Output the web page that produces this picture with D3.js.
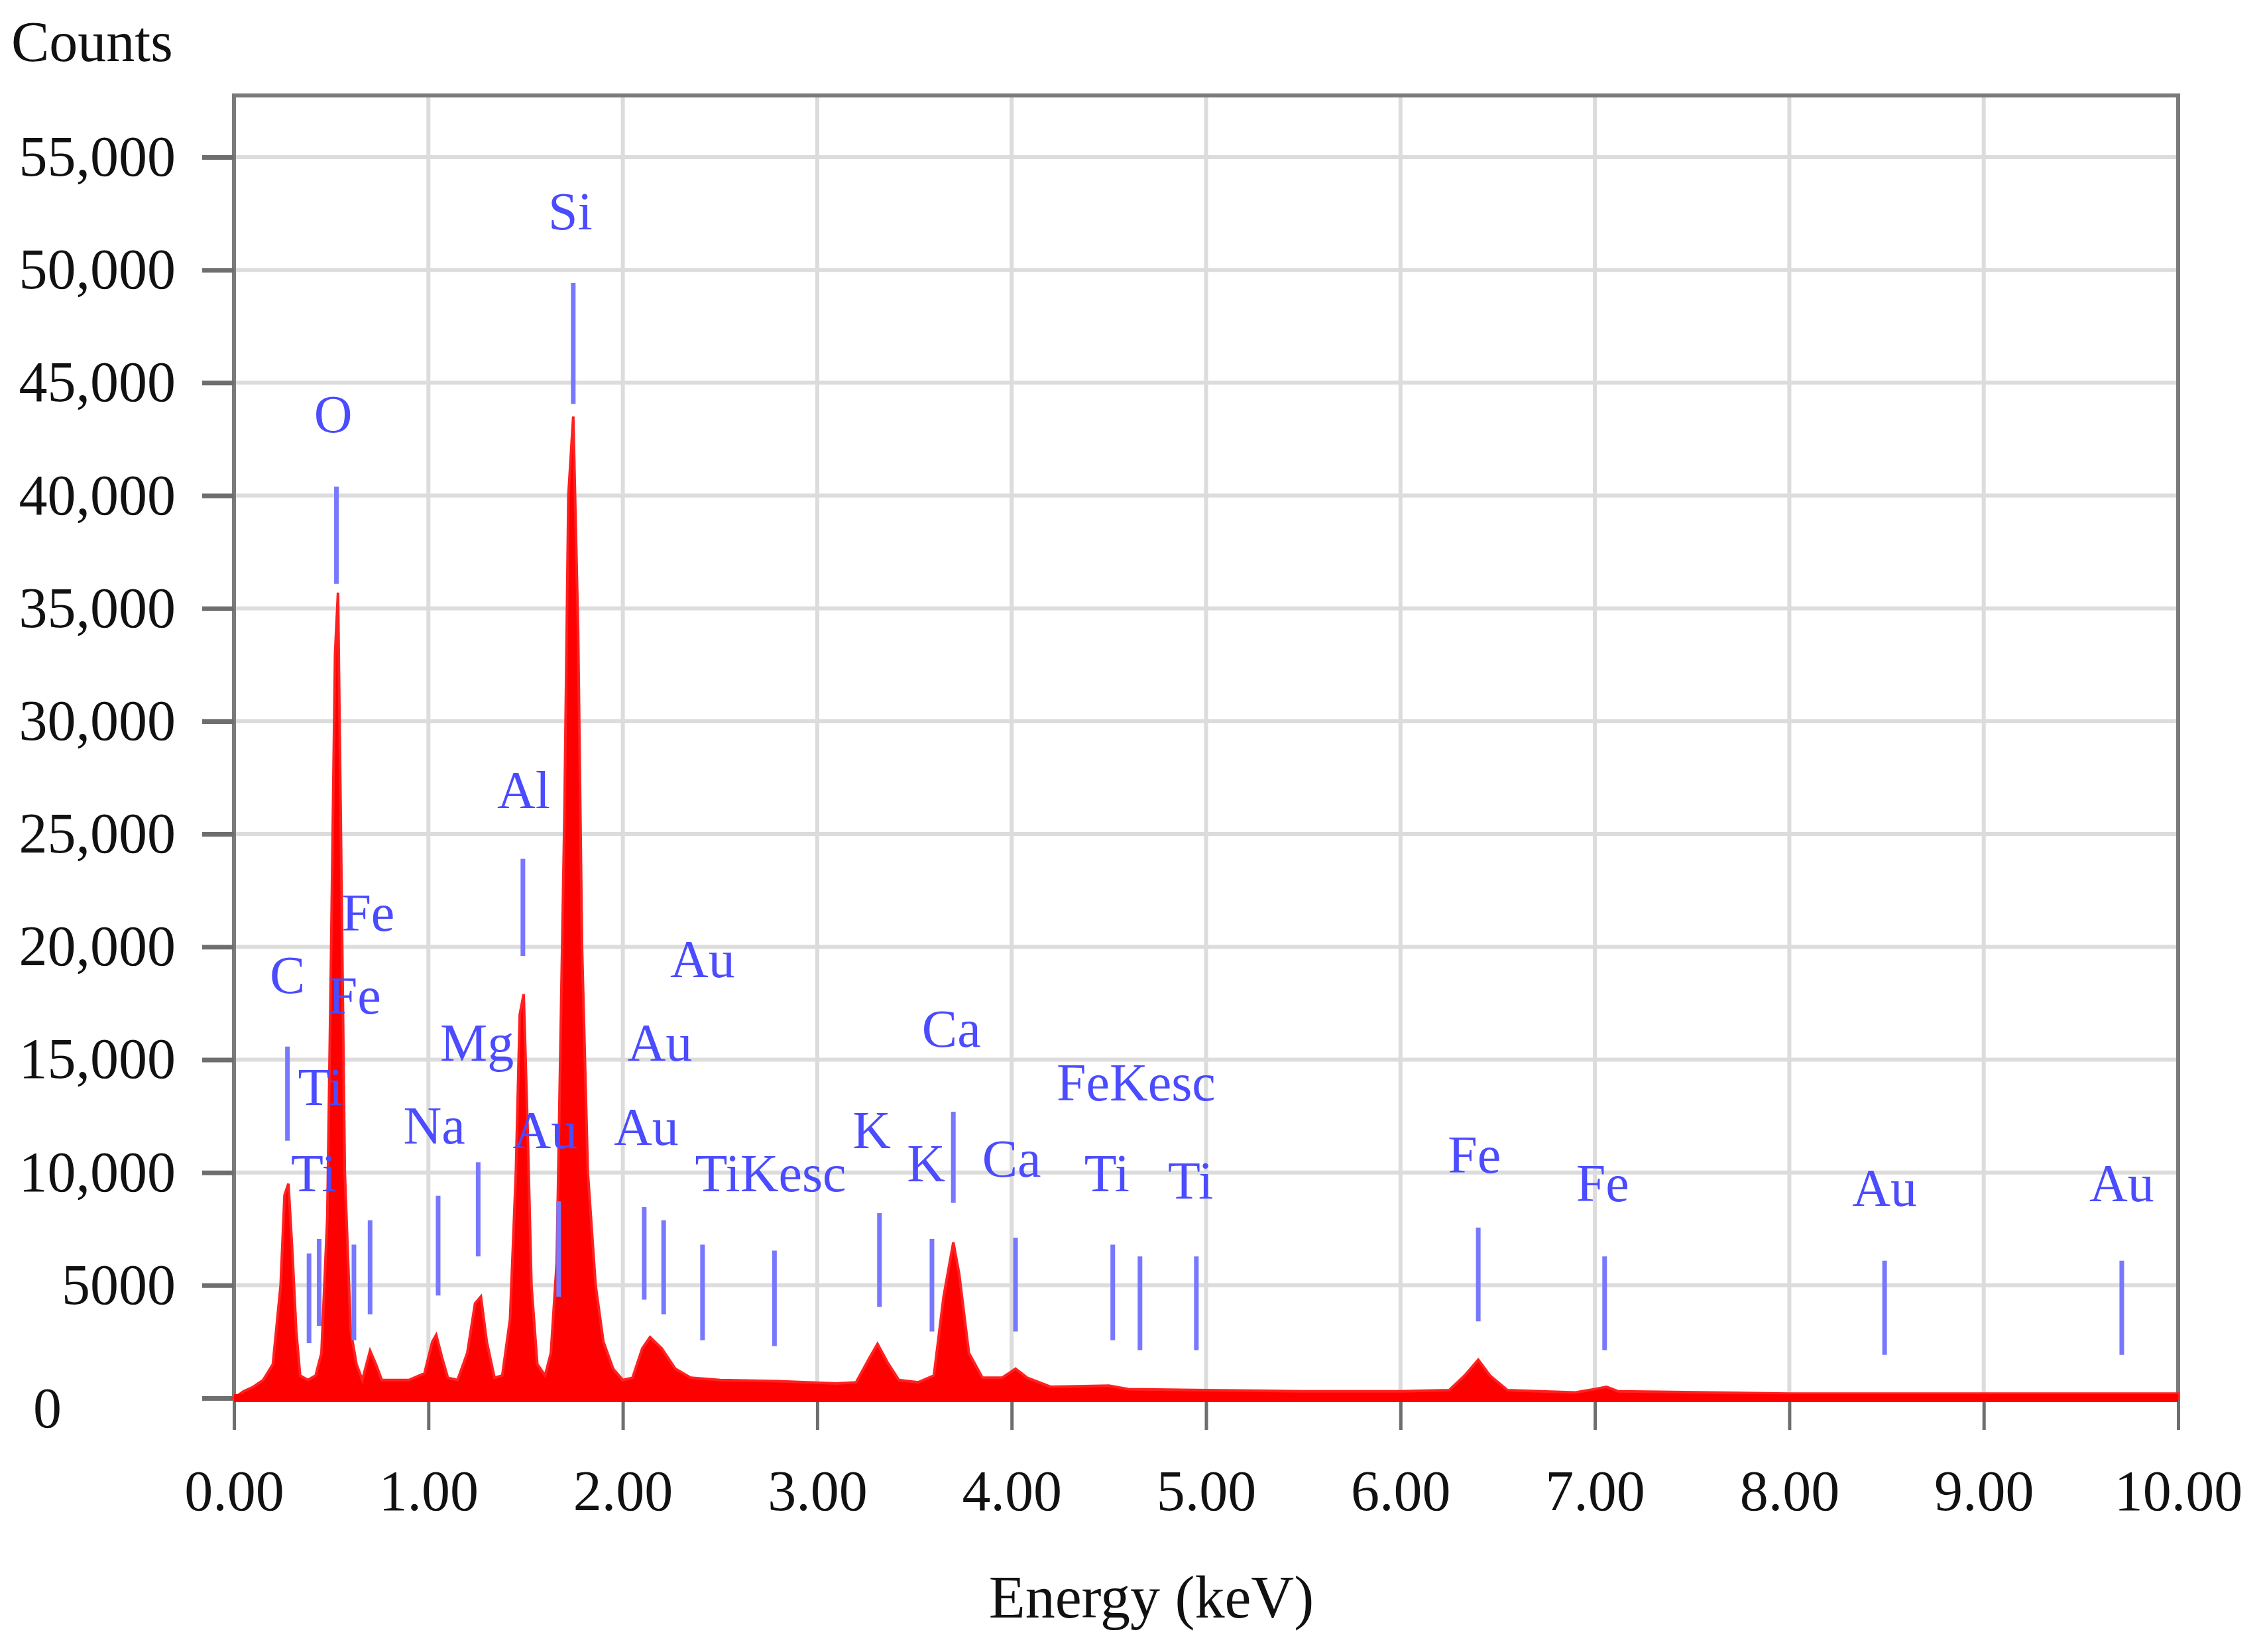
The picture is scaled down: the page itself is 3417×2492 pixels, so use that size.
<!DOCTYPE html>
<html><head><meta charset="utf-8">
<script src="https://cdn.jsdelivr.net/npm/d3@7"></script>
<style>body{margin:0;background:#fff}svg{display:block}</style>
</head><body>
<script>
const energy = [0,0.05,0.1,0.15,0.2,0.24,0.26,0.28,0.3,0.32,0.34,0.38,0.42,0.45,0.48,0.5,0.52,0.535,0.55,0.57,0.6,0.63,0.66,0.7,0.73,0.76,0.9,0.98,1.02,1.04,1.07,1.1,1.15,1.2,1.24,1.27,1.3,1.34,1.38,1.42,1.45,1.47,1.49,1.51,1.53,1.56,1.6,1.63,1.66,1.7,1.72,1.745,1.77,1.79,1.82,1.86,1.9,1.95,2.0,2.05,2.1,2.14,2.2,2.27,2.35,2.5,2.8,3.1,3.2,3.27,3.31,3.36,3.42,3.52,3.6,3.65,3.7,3.73,3.78,3.85,3.95,4.02,4.08,4.2,4.5,4.6,5.0,5.5,6.0,6.25,6.33,6.4,6.46,6.55,6.9,7.0,7.06,7.12,8,10];
const counts = [0,300,500,800,1500,5000,9000,9500,6500,3000,1000,800,1000,2000,8000,20000,33000,35700,25000,10000,3000,1500,800,2100,1500,800,800,1100,2500,2800,1800,900,800,2000,4200,4500,2500,900,1000,3500,10000,17000,17900,12000,5000,1500,1000,2000,6000,26000,40000,43500,34000,20000,10000,5000,2500,1300,800,900,2200,2700,2200,1300,900,800,750,650,700,1800,2400,1600,800,700,1000,4500,6900,5500,2000,900,900,1300,900,500,550,400,350,300,300,350,1000,1700,1000,350,250,400,500,300,200,200];
const xTicks = [0,1,2,3,4,5,6,7,8,9,10];
const yTicks = [0,5000,10000,15000,20000,25000,30000,35000,40000,45000,50000,55000];
const labelText = ["Si","O","Al","Fe","C","Fe","Mg","Ti","Ti","Na","Au","Au","Au","Au","TiKesc","K","K","Ca","Ca","FeKesc","Ti","Ti","Fe","Fe","Au","Au"];
const labelKeV  = [1.73,0.51,1.49,0.69,0.275,0.62,1.25,0.445,0.41,1.03,1.60,2.41,2.19,2.12,2.76,3.28,3.56,3.69,4.0,4.64,4.49,4.92,6.38,7.04,8.49,9.71];
const labelCnt  = [51800,42800,26150,20700,17950,17050,14950,13000,9170,11280,11090,18650,14950,11220,9170,11090,9620,15580,9810,13200,9170,8850,10000,8720,8530,8720];
const markKeV = [1.745,0.527,1.486,0.275,0.386,0.438,0.617,0.70,1.05,1.256,1.67,2.11,2.21,2.41,2.78,3.32,3.59,3.70,4.02,4.52,4.66,4.95,6.40,7.05,8.49,9.71];
const markTop = [49420,40400,23900,15580,6410,7050,6800,7880,8970,10450,8720,8460,7880,6800,6540,8200,7050,12690,7110,6800,6280,6280,7560,6280,6090,6090];
const markBot = [44060,36090,19600,11410,2440,3200,2560,3720,4550,6280,4490,4360,3720,2560,2310,4040,2950,8650,2950,2560,2120,2120,3400,2120,1920,1920];

const W=3417,H=2492, L=353, R=3286, T=144, B=2109;
const svg=d3.select("body").append("svg").attr("width",W).attr("height",H);
const x=d3.scaleLinear().domain([0,10]).range([L,R]);
const y=d3.scaleLinear().domain([0,55000]).range([B,237]);
const font="'Liberation Serif','Times New Roman',serif";

svg.append("g").selectAll("line").data(xTicks.slice(1,-1)).join("line")
 .attr("x1",d=>x(d)).attr("x2",d=>x(d)).attr("y1",T).attr("y2",B)
 .attr("stroke","#dcdcdc").attr("stroke-width",6);
svg.append("g").selectAll("line").data(yTicks.slice(1)).join("line")
 .attr("x1",L).attr("x2",R).attr("y1",d=>y(d)).attr("y2",d=>y(d))
 .attr("stroke","#dcdcdc").attr("stroke-width",6);
svg.append("rect").attr("x",L).attr("y",T).attr("width",R-L).attr("height",B-T)
 .attr("fill","none").attr("stroke","#7a7a7a").attr("stroke-width",6);

const ya=svg.append("g").attr("transform",`translate(${L},0)`)
 .call(d3.axisLeft(y).tickValues(yTicks).tickSize(48).tickPadding(40)
   .tickFormat(d=>d<10000?String(d):d3.format(",")(d)));
const xa=svg.append("g").attr("transform",`translate(0,${B})`)
 .call(d3.axisBottom(x).tickValues(xTicks).tickSize(48).tickPadding(60).tickFormat(d3.format(".2f")));
[ya,xa].forEach(a=>{a.select(".domain").remove();
 a.selectAll(".tick line").attr("stroke","#6e6e6e").attr("stroke-width",7);
 a.selectAll("text").attr("font-family",font).attr("font-size",86).attr("fill","#111");});
xa.selectAll(".tick line").attr("stroke-width",5);
ya.selectAll(".tick text").filter(d=>d===0).attr("text-anchor","start").attr("x",-L+50).attr("dy","0.5em");

const pts=energy.map((e,i)=>[e,counts[i]]);
svg.append("path").datum(pts)
 .attr("d",d3.area().x(d=>x(d[0])).y0(y(0)).y1(d=>y(d[1])))
 .attr("fill","#ff0000").attr("stroke","#ff2020").attr("stroke-width",4);
svg.append("line").attr("x1",L).attr("x2",R).attr("y1",B).attr("y2",B).attr("stroke","#ff0000").attr("stroke-width",12);

svg.append("g").selectAll("line").data(markKeV).join("line")
 .attr("x1",d=>x(d)).attr("x2",d=>x(d)).attr("y1",(d,i)=>y(markTop[i])).attr("y2",(d,i)=>y(markBot[i]))
 .attr("stroke","#7878ff").attr("stroke-width",7);
svg.append("g").selectAll("text").data(labelText).join("text")
 .attr("x",(d,i)=>x(labelKeV[i])).attr("y",(d,i)=>y(labelCnt[i]))
 .attr("text-anchor","middle").attr("font-family",font).attr("font-size",80)
 .attr("fill","#4b4bff").text(d=>d);

svg.append("text").attr("x",17).attr("y",92).attr("font-family",font).attr("font-size",86).attr("fill","#111").text("Counts");
svg.append("text").attr("x",1737).attr("y",2440).attr("text-anchor","middle").attr("font-family",font).attr("font-size",90).attr("fill","#111").text("Energy (keV)");
</script>
</body></html>
